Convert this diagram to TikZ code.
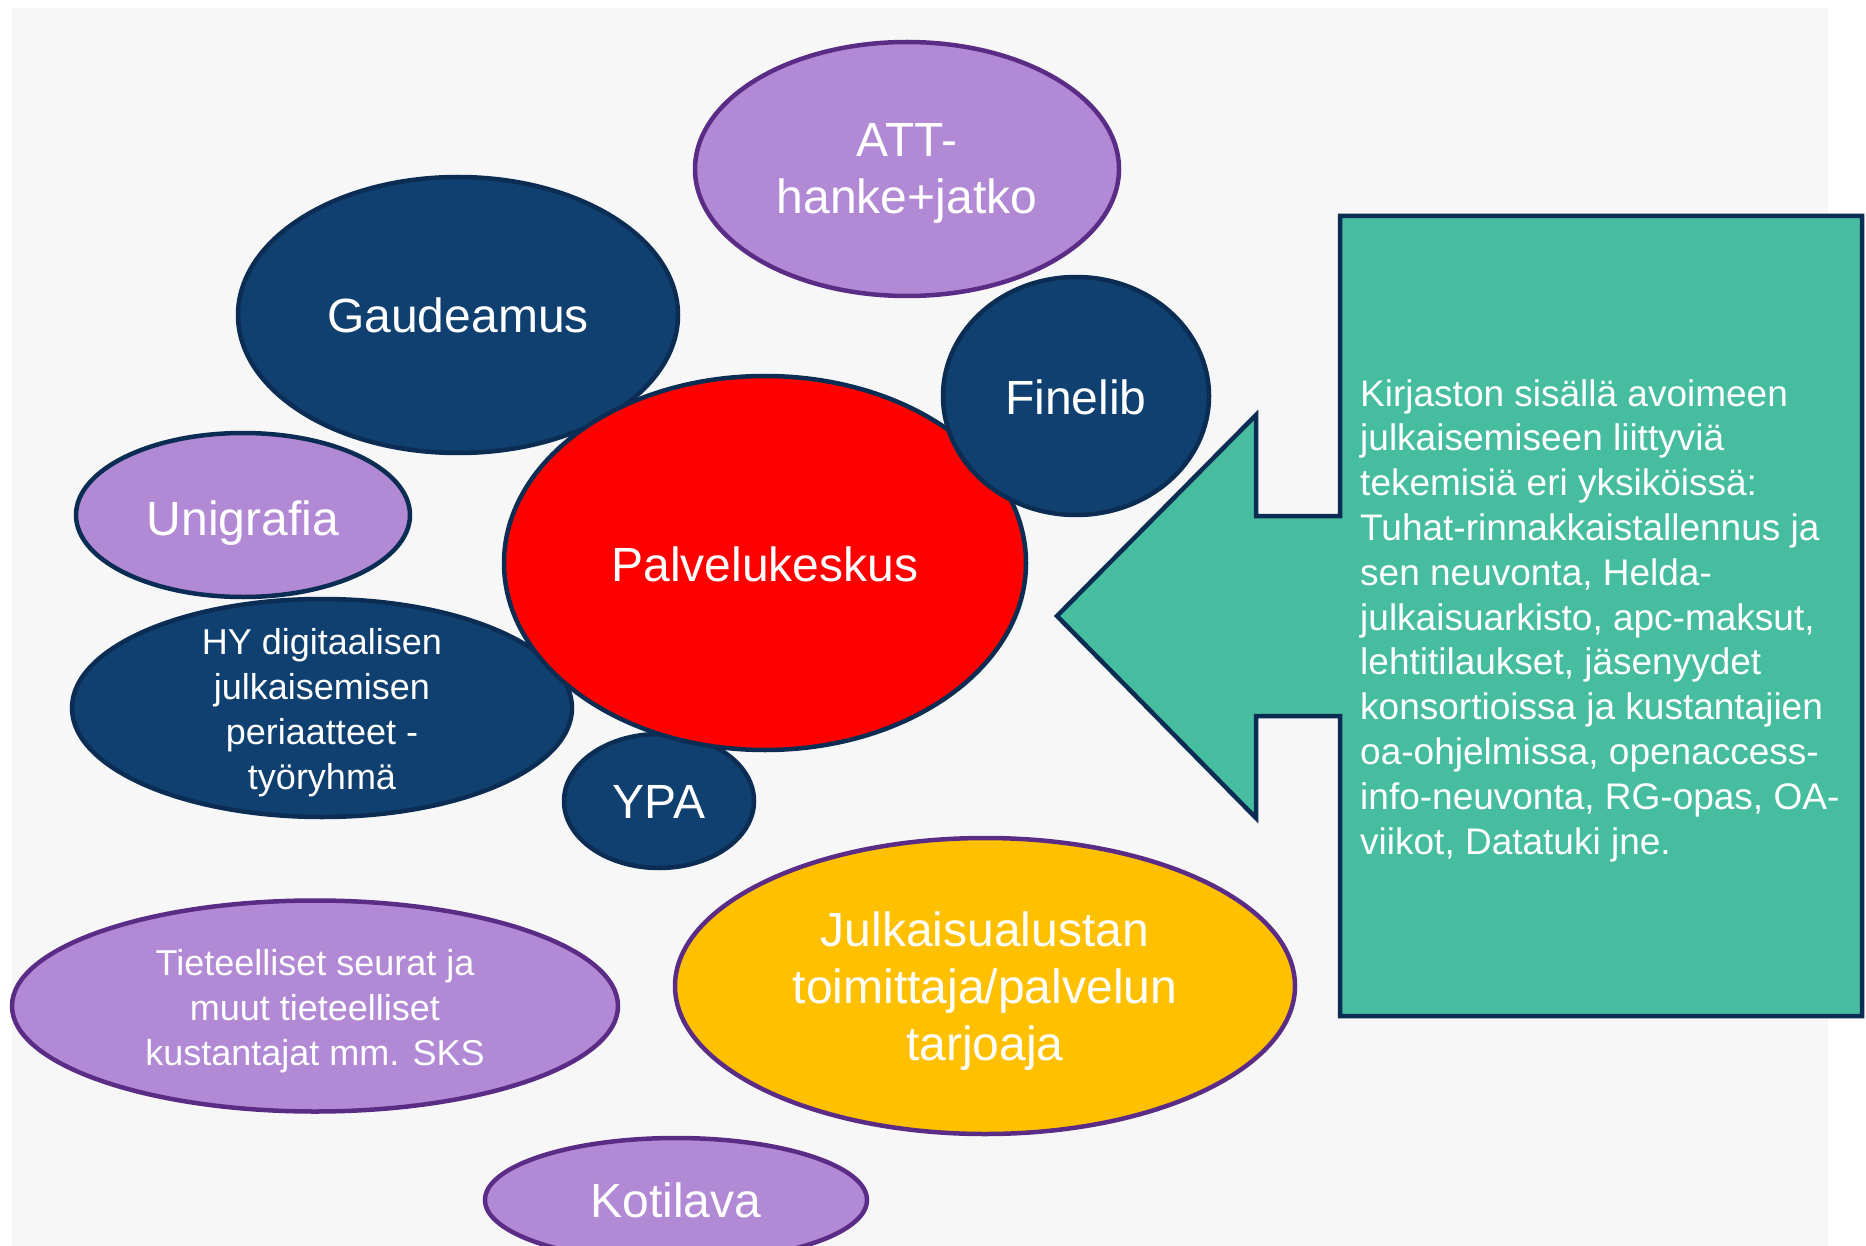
\documentclass[tikz,border=0pt]{standalone}
\usepackage{fontspec}
\setmainfont{Liberation Sans}
\usetikzlibrary{shapes.geometric}
\definecolor{navyfill}{RGB}{16,64,112}
\definecolor{navyline}{RGB}{11,45,84}
\definecolor{purplefill}{RGB}{177,137,212}
\definecolor{purpleline}{RGB}{91,44,134}
\definecolor{tealfill}{RGB}{71,189,160}
\definecolor{yellowfill}{RGB}{255,192,0}
\definecolor{redfill}{RGB}{255,0,0}
\definecolor{bggray}{RGB}{247,247,247}
\tikzset{
  bub/.style={ellipse, inner sep=0pt, line width=4.5pt},
  navybub/.style={bub, fill=navyfill, draw=navyline},
  purplebub/.style={bub, fill=purplefill, draw=purpleline},
  lbl/.style={inner sep=0pt, anchor=north, align=center, text=white, font=\fontsize{48}{57}\selectfont},
  smalllbl/.style={lbl, font=\fontsize{36}{45}\selectfont},
}
\begin{document}
\begin{tikzpicture}[x=1pt,y=-1pt]
\useasboundingbox (0,0) rectangle (1866,1246);
\fill[white] (0,0) rectangle (1866,1246);
\fill[bggray] (12,8) rectangle (1828,1246);
% bubbles
\node[purplebub, minimum width=424pt, minimum height=254pt] (att) at (907,169) {};
\node[lbl] (atttext) at (907,123) {ATT-\\hanke+jatko};
\node[navybub, minimum width=440pt, minimum height=276pt] (gaud) at (458,315) {};
\node[lbl] (gaudtext) at (458,298) {Gaudeamus};
\node[bub, fill=purplefill, draw=navyline, minimum width=334pt, minimum height=164pt] (uni) at (243,515) {};
\node[lbl] (unitext) at (243,501) {Unigrafia};
\node[navybub, minimum width=500pt, minimum height=218pt] (hy) at (322,708) {};
\node[smalllbl] (hytext) at (322,628) {HY digitaalisen\\julkaisemisen\\periaatteet -\\työryhmä};
\node[navybub, minimum width=190pt, minimum height=134pt] (ypa) at (659,801) {};
\node[lbl] (ypatext) at (659,785) {YPA};
\node[bub, fill=redfill, draw=navyline, minimum width=522pt, minimum height=374pt] (palv) at (765,563) {};
\node[lbl] (palvtext) at (765,547) {Palvelukeskus};
\node[navybub, minimum width=266pt, minimum height=238pt] (fine) at (1076,396) {};
\node[lbl] (finetext) at (1076,380) {Finelib};
\node[bub, fill=yellowfill, draw=purpleline, minimum width=620pt, minimum height=296pt] (julk) at (985,986) {};
\node[lbl] (julktext) at (985,912) {Julkaisualustan\\toimittaja/palvelun\\tarjoaja};
\node[purplebub, minimum width=606pt, minimum height=211pt] (tiet) at (315,1006) {};
\node[smalllbl] (tiettext) at (315,949) {Tieteelliset seurat ja\\muut tieteelliset\\kustantajat mm. SKS};
\node[purplebub, minimum width=382pt, minimum height=124pt] (koti) at (676,1200) {};
\node[lbl] (kotitext) at (676,1183) {Kotilava};
% callout
\draw[fill=tealfill, draw=navyline, line width=4.5pt, line join=miter]
  (1340,216) -- (1862,216) -- (1862,1016) -- (1340,1016) -- (1340,716)
  -- (1256,716) -- (1256,818) -- (1057,616) -- (1256,415) -- (1256,516)
  -- (1340,516) -- cycle;
\node[inner sep=0pt, anchor=north west, align=left, text=white,
  font=\fontsize{37}{44.8}\selectfont] (calltext) at (1360,379)
  {Kirjaston sisällä avoimeen\\julkaisemiseen liittyviä\\tekemisiä eri yksiköissä:\\Tuhat-rinnakkaistallennus ja\\sen neuvonta, Helda-\\julkaisuarkisto, apc-maksut,\\lehtitilaukset, jäsenyydet\\konsortioissa ja kustantajien\\oa-ohjelmissa, openaccess-\\info-neuvonta, RG-opas, OA-\\viikot, Datatuki jne.};
\end{tikzpicture}
\end{document}
